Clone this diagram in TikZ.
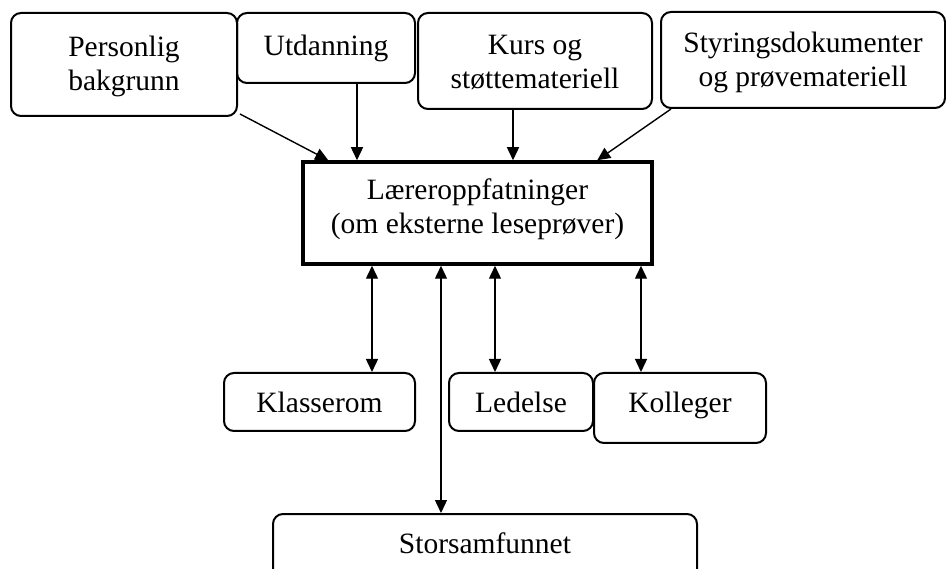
\documentclass[tikz,border=0pt]{standalone}
\usepackage{fontspec}
\setmainfont{Liberation Serif}
\usetikzlibrary{arrows.meta,calc}
\newcommand{\boxtxt}[2]{\raisebox{#1pt}[0pt][0pt]{\begin{tabular}[t]{@{}c@{}}#2\end{tabular}}}
\begin{document}
\begin{tikzpicture}[x=1pt,y=-1pt,
  txt/.style={font=\fontsize{29.5}{34}\selectfont},
  box/.style={txt, draw, line width=2pt, rounded corners=10pt, inner sep=0pt},
  mainbox/.style={txt, draw, line width=3.5pt, inner sep=0pt},
  tip/.tip={Triangle[length=13pt,width=12pt]},
  arr/.style={-tip, line width=1.4pt},
  darr/.style={tip-tip, line width=1.4pt}]
\fill[white] (0,0) rectangle (946,569);
\useasboundingbox (0,0) rectangle (946,569);
% top row
\node[box, minimum width=226pt, minimum height=103pt] (pb) at (124,64.5) {\boxtxt{8}{Personlig\\bakgrunn}};
\node[box, minimum width=178pt, minimum height=70pt] (ud) at (326,48) {\boxtxt{-8}{Utdanning}};
\node[box, minimum width=234pt, minimum height=96pt] (ks) at (535,61) {\boxtxt{6}{Kurs og\\støttemateriell}};
\node[box, minimum width=284pt, minimum height=96pt] (sd) at (803,60) {\boxtxt{7}{Styringsdokumenter\\og prøvemateriell}};
% centre
\node[mainbox, minimum width=349pt, minimum height=102pt] (c) at (477.5,213) {\boxtxt{13}{Læreroppfatninger\\(om eksterne leseprøver)}};
% bottom row
\node[box, minimum width=191pt, minimum height=58pt] (kr) at (319.5,402) {\boxtxt{-11}{Klasserom}};
\node[box, minimum width=144pt, minimum height=58pt] (ld) at (521,402) {\boxtxt{-11}{Ledelse}};
\node[box, minimum width=172pt, minimum height=70pt] (kl) at (680,408) {\boxtxt{-5}{Kolleger}};
\node[box, minimum width=424pt, minimum height=66pt] (st) at (485,547) {\boxtxt{-6}{Storsamfunnet}};
% attachment points
\coordinate (u1) at ($(ud.south)+(31,0)$);
\coordinate (k1) at ($(ks.south)+(-22,0)$);
\coordinate (a1) at ($(kr.north)+(52.5,0)$);
\coordinate (a2) at ($(st.north)+(-44,0)$);
\coordinate (a3) at ($(ld.north)+(-26,0)$);
\coordinate (a4) at ($(kl.north)+(-39,0)$);
% arrows into centre
\draw[arr] ($(pb.south east)+(2,-3)$) -- ($(c.north west)+(27,0)$);
\draw[arr] (u1) -- (u1 |- c.north);
\draw[arr] (k1) -- (k1 |- c.north);
\draw[arr] ($(sd.south west)+(11,0)$) -- ($(c.north west)+(296,0)$);
% two-way arrows
\draw[darr] (c.south -| a1) -- (a1);
\draw[darr] (c.south -| a2) -- (a2);
\draw[darr] (c.south -| a3) -- (a3);
\draw[darr] (c.south -| a4) -- (a4);
\end{tikzpicture}
\end{document}
